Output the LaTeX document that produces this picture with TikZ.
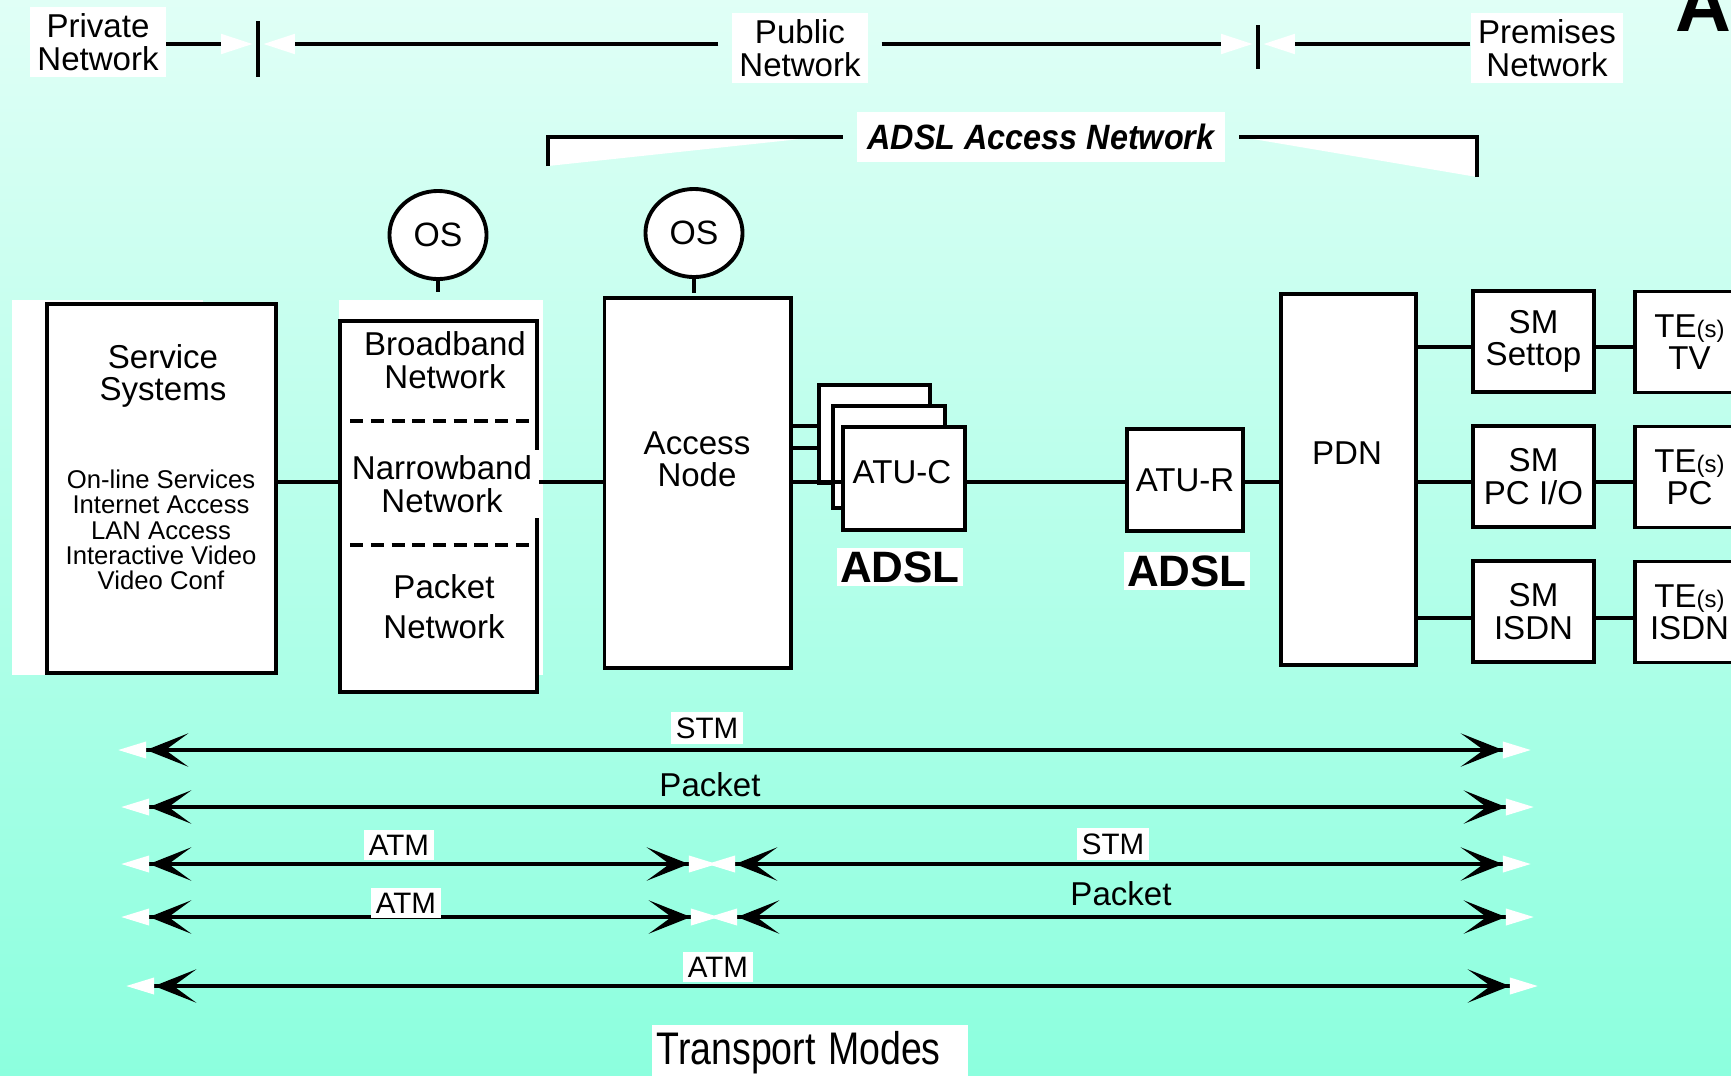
\documentclass[tikz,border=0pt]{standalone}
\usepackage{fontspec}
\setmainfont{Liberation Sans}
\usepackage{graphicx}
\usetikzlibrary{arrows.meta,shapes.geometric}
\definecolor{bgtop}{RGB}{224,255,246}
\definecolor{bgbot}{RGB}{140,255,222}
\newcommand\tes{TE{\fontsize{6.8}{7}\selectfont(s)}}
\tikzset{
  ln/.style={line width=1.1pt},
  blk/.style={draw,fill=white,line width=1.1pt,inner sep=0pt,align=center,font=\fontsize{9.4}{9.2}\selectfont},
  smbox/.style={blk,minimum width=1.21cm,minimum height=1.01cm},
  tebox/.style={blk,minimum width=1.09cm,minimum height=1.01cm},
  os/.style={ellipse,draw,fill=white,line width=1.1pt,inner sep=0pt,minimum width=0.97cm,minimum height=0.88cm,font=\fontsize{9.6}{10}\selectfont},
  lbl/.style={align=center,inner sep=1pt,font=\fontsize{9.4}{9.2}\selectfont},
  wlbl/.style={lbl,fill=white,inner sep=2pt},
  adsl/.style={fill=white,inner sep=1pt,font=\fontsize{12.5}{14}\selectfont\bfseries},
  mlbl/.style={fill=white,inner sep=1.5pt,font=\fontsize{8.4}{9}\selectfont},
  plbl/.style={inner sep=1pt,font=\fontsize{9.4}{10}\selectfont},
  dsh/.style={line width=1.1pt,dash pattern=on 3.7pt off 2.2pt},
  wtip/.style={ln,shorten >=1.5pt,-{Triangle[color=white,length=9pt,width=5.5pt]}},
  mode/.style={line width=0.9pt,{Triangle[color=white,length=8pt,width=4.6pt] Stealth[length=12pt,width=9.5pt,inset=6.5pt]}-{Stealth[length=12pt,width=9.5pt,inset=6.5pt] Triangle[color=white,length=8pt,width=4.6pt]}}
}
\begin{document}
\begin{tikzpicture}[x=0.01cm,y=-0.01cm]
\useasboundingbox (0,0) rectangle (1731,1075);
\clip (0,0) rectangle (1731,1075);
\shade[top color=bgtop,bottom color=bgbot] (0,0) rectangle (1731,1075);

\node[wlbl] (priv) at (98,42) {Private\\Network};
\node[wlbl,outer xsep=4pt] (pub) at (800,48) {Public\\Network};
\node[wlbl] (prem) at (1547,48) {Premises\\Network};
\coordinate (d1) at (258,44);
\coordinate (d2) at (1258,44);
\draw[ln] (d1) ++(0,-23) -- ++(0,56);
\draw[ln] (d2) ++(0,-19) -- ++(0,44);
\draw[wtip] (priv.east |- d1) -- (d1);
\draw[wtip] (pub.west |- d1) -- (d1);
\draw[wtip] (pub.east |- d2) -- (d2);
\draw[wtip] (prem.west |- d2) -- (d2);
\node[anchor=base west,inner sep=0pt,font=\fontsize{22}{22}\selectfont\bfseries] (ttl) at (1675,31) {A};

\node[fill=white,inner xsep=3pt,inner ysep=3.5pt,outer xsep=4pt,font=\fontsize{10}{12}\selectfont\bfseries\itshape] (aan) at (1041,137) {\scalebox{0.92}[1]{ADSL Access Network}};
\coordinate (brl) at (548,166);
\coordinate (brr) at (1477,177);
\fill[white] (548,139) -- (800,139) -- (brl) -- cycle;
\fill[white] (1253,139) -- (1477,139) -- (brr) -- cycle;
\draw[ln] (brl) |- (aan.west);
\draw[ln] (brr) |- (aan.east);

\node[os] (os1) at (438,235) {OS};
\node[os] (os2) at (694,233) {OS};
\draw[ln] (os1.south) -- ++(0,11);
\draw[ln] (os2.south) -- ++(0,14);

\fill[white] (12,300) rectangle (203,675);
\fill[white] (339,300) rectangle (543,675);

\node[blk,minimum width=2.29cm,minimum height=3.69cm] (svc) at (161.5,488.5) {};
\node[lbl] (svcname) at (163,376) {Service\\Systems};
\node[lbl,font=\fontsize{7.3}{7.2}\selectfont] (svclist) at (161,530) {On-line Services\\Internet Access\\LAN Access\\Interactive Video\\Video Conf};

\node[blk,minimum width=1.97cm,minimum height=3.71cm] (net) at (438.5,506.5) {};
\coordinate (dl1) at (350,421);
\coordinate (dl2) at (350,545);
\draw[dsh] (dl1) -- (net.east |- dl1);
\draw[dsh] (dl2) -- (net.east |- dl2);
\node[lbl] (bb) at (445,360) {Broadband\\Network};
\node[lbl,fill=white,inner xsep=0.09cm,inner ysep=0.06cm] (nb) at (442,484) {Narrowband\\Network};
\node[lbl,font=\fontsize{9.4}{11.4}\selectfont] (pk) at (444,607) {Packet\\Network};

\node[blk,minimum width=1.86cm,minimum height=3.70cm] (an) at (697.5,483) {};
\node[lbl] (antxt) at (697,459) {Access\\Node};

\node[blk,minimum width=1.11cm,minimum height=0.98cm] (atu1) at (874.5,434) {};
\node[blk,minimum width=1.12cm,minimum height=1.02cm] (atu2) at (889,457) {};
\node[blk,minimum width=1.22cm,minimum height=1.03cm] (atuc) at (904,478.5) {};
\node[lbl] (atuctxt) at (902,472) {ATU-C};
\node[adsl] (adslc) at (900,567) {ADSL};
\node[blk,minimum width=1.16cm,minimum height=1.02cm] (atur) at (1185,480) {ATU-R};
\node[adsl] (adslr) at (1187,571) {ADSL};

\node[blk,minimum width=1.35cm,minimum height=3.71cm] (pdn) at (1348.5,479.5) {};
\node[lbl] (pdntxt) at (1347,453) {PDN};

\node[smbox] (sm1) at (1533.5,341.5) {SM\\Settop};
\node[smbox] (sm2) at (1533.5,476.5) {SM\\PC I/O};
\node[smbox] (sm3) at (1533.5,611.5) {SM\\ISDN};
\node[tebox] (te1) at (1689.5,342) {\tes\\TV};
\node[tebox] (te2) at (1689.5,477) {\tes\\PC};
\node[tebox] (te3) at (1689.5,612) {\tes\\ISDN};

\coordinate (bus) at (0,482);
\coordinate (r1) at (0,426);
\coordinate (r2) at (0,448);
\coordinate (p1) at (0,347);
\coordinate (p2) at (0,482);
\coordinate (p3) at (0,618);
\draw[ln] (svc.east |- bus) -- (net.west |- bus);
\draw[ln] (net.east |- bus) -- (an.west |- bus);
\draw[ln] (an.east |- r1) -- (atu1.west |- r1);
\draw[ln] (an.east |- r2) -- (atu1.west |- r2);
\draw[ln] (an.east |- bus) -- (atuc.west |- bus);
\draw[ln] (atuc.east |- bus) -- (atur.west |- bus);
\draw[ln] (atur.east |- bus) -- (pdn.west |- bus);
\foreach \i in {1,2,3} {
  \draw[ln] (pdn.east |- p\i) -- (sm\i.west |- p\i);
  \draw[ln] (sm\i.east |- p\i) -- (te\i.west |- p\i);
}

\coordinate (m1a) at (118,750);
\coordinate (m1b) at (1531,750);
\coordinate (m2a) at (121,807);
\coordinate (m2b) at (1534,807);
\coordinate (m3a) at (121,864);
\coordinate (m3b) at (717,864);
\coordinate (m3c) at (707,864);
\coordinate (m3d) at (1531,864);
\coordinate (m4a) at (121,917);
\coordinate (m4b) at (719,917);
\coordinate (m4c) at (709,917);
\coordinate (m4d) at (1534,917);
\coordinate (m5a) at (126,986);
\coordinate (m5b) at (1538,986);
\draw[mode] (m1a) -- (m1b);
\draw[mode] (m2a) -- (m2b);
\draw[mode] (m3a) -- (m3b);
\draw[mode] (m3c) -- (m3d);
\draw[mode] (m4a) -- (m4b);
\draw[mode] (m4c) -- (m4d);
\draw[mode] (m5a) -- (m5b);
\node[mlbl] (stm1) at (707,728) {STM};
\node[plbl] (pkt2) at (710,785) {Packet};
\node[mlbl] (atm3) at (399,845) {ATM};
\node[mlbl] (stm3) at (1113,844) {STM};
\node[mlbl] (atm4) at (406,903) {ATM};
\node[plbl] (pkt4) at (1121,894) {Packet};
\node[mlbl] (atm5) at (718,967) {ATM};

\node[fill=white,anchor=north west,inner xsep=0.05cm,inner ysep=0pt,text width=3.06cm,minimum height=0.55cm,align=left,font=\fontsize{13}{14}\selectfont] (tmodes) at (651,1024) {\scalebox{0.82}[1]{Transport Modes}};
\end{tikzpicture}
\end{document}
